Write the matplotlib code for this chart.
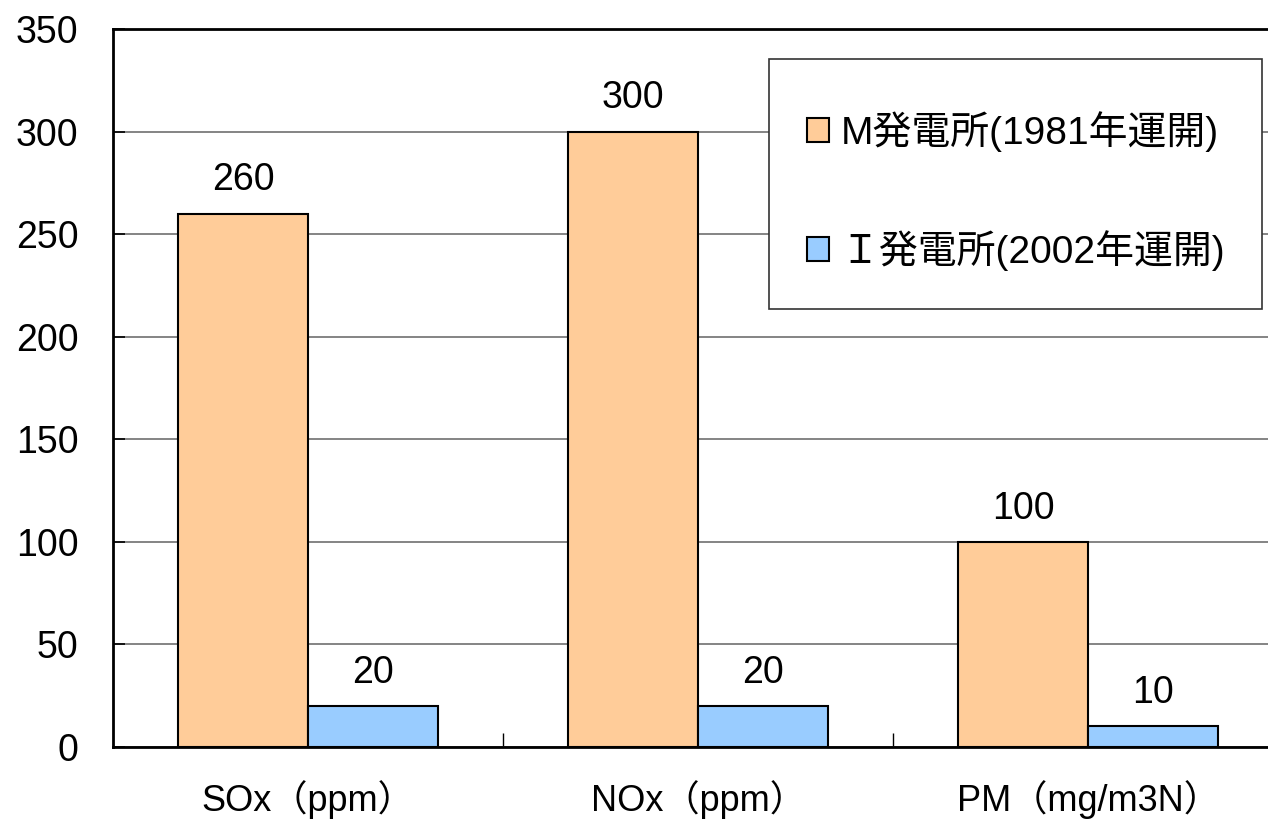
import matplotlib
matplotlib.use("Agg")
import matplotlib.pyplot as plt
from matplotlib.patches import Rectangle
import numpy as np

plt.rcParams['font.family'] = ['Liberation Sans', 'Noto Sans CJK JP', 'DejaVu Sans']

categories = ['SOx（ppm）', 'NOx（ppm）', 'PM（mg/m3N）']
series_names = ['M発電所(1981年運開)', 'Ｉ発電所(2002年運開)']
m_values = [260, 300, 100]
i_values = [20, 20, 10]
colors = ['#FFCC99', '#99CCFF']
yticks = [0, 50, 100, 150, 200, 250, 300, 350]

W, H = 1268, 823
fig = plt.figure(figsize=(W / 100, H / 100), dpi=100)
ax = fig.add_axes([113 / W, (H - 747) / H, 1170 / W, 718 / H])

x = np.arange(len(categories))
bw = 1 / 3
bars_m = ax.bar(x - bw / 2, m_values, bw, color=colors[0], edgecolor='black',
                linewidth=1.5, label=series_names[0], zorder=3)
bars_i = ax.bar(x + bw / 2, i_values, bw, color=colors[1], edgecolor='black',
                linewidth=1.5, label=series_names[1], zorder=3)

for bars, vals in ((bars_m, m_values), (bars_i, i_values)):
    for b, v in zip(bars, vals):
        ax.annotate(f'{v}', (b.get_x() + b.get_width() / 2, v),
                    xytext=(0, 11), textcoords='offset points',
                    ha='center', va='bottom', fontsize=27)

ax.set_xlim(-0.5, 2.5)
ax.set_ylim(0, 350)
ax.set_yticks(yticks)
ax.set_yticklabels([str(t) for t in yticks], fontsize=27)
ax.tick_params(axis='y', direction='in', length=8.5, width=1.2, pad=25)

ax.set_xticks(x)
ax.set_xticklabels(categories, fontsize=26)
ax.tick_params(axis='x', which='major', length=0, pad=24)
ax.set_xticks([0.5, 1.5], minor=True)
ax.tick_params(axis='x', which='minor', direction='in', length=10, width=1)

ax.yaxis.grid(True, color='#707070', linewidth=1.2)
ax.set_axisbelow(True)
for side in ('left', 'bottom', 'top'):
    ax.spines[side].set_linewidth(2)
    ax.spines[side].set_color('black')
ax.spines['right'].set_visible(False)

# legend frame drawn as a plain rectangle in figure pixels
frame = Rectangle((769 / W, 1 - 309 / H), (1262 - 769) / W, 250 / H,
                  transform=fig.transFigure, facecolor='white',
                  edgecolor='#333333', linewidth=1.2, zorder=4)
fig.patches.append(frame)

leg = fig.legend(handles=[bars_m, bars_i], labels=series_names,
                 loc='center left', bbox_to_anchor=(807 / W, 1 - 191 / H),
                 bbox_transform=fig.transFigure, fontsize=28, frameon=False,
                 handlelength=0.57, handleheight=0.57, handletextpad=0.3,
                 labelspacing=2.0, borderpad=0, borderaxespad=0)
leg.set_zorder(5)

fig.savefig('out.png', dpi=100)
